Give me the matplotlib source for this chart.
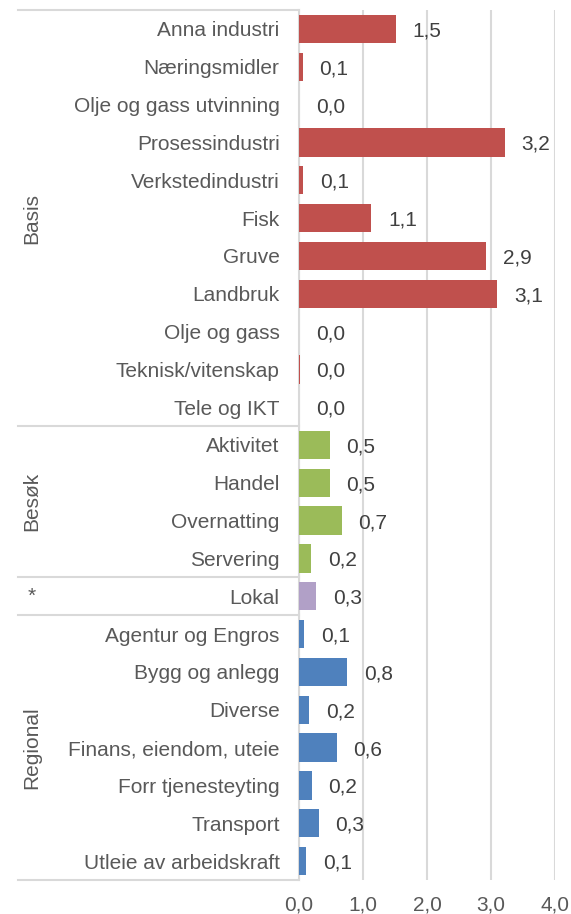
import matplotlib.pyplot as plt
import matplotlib.transforms as mtransforms

plt.rcParams['font.family'] = ['Liberation Sans', 'DejaVu Sans']

# data
categories = ["Anna industri", "Næringsmidler", "Olje og gass utvinning", "Prosessindustri",
              "Verkstedindustri", "Fisk", "Gruve", "Landbruk", "Olje og gass",
              "Teknisk/vitenskap", "Tele og IKT",
              "Aktivitet", "Handel", "Overnatting", "Servering",
              "Lokal",
              "Agentur og Engros", "Bygg og anlegg", "Diverse", "Finans, eiendom, uteie",
              "Forr tjenesteyting", "Transport", "Utleie av arbeidskraft"]
values = [1.51, 0.06, 0.0, 3.22, 0.07, 1.13, 2.92, 3.10, 0.0, 0.01, 0.0,
          0.48, 0.48, 0.67, 0.19,
          0.27,
          0.08, 0.75, 0.16, 0.59, 0.20, 0.31, 0.11]
groups = ["Basis", "Besøk", "*", "Regional"]
group_sizes = [11, 4, 1, 7]
group_colors = ["#C0504D", "#9BBB59", "#B1A0C7", "#4F81BD"]
xticks = [0, 1, 2, 3, 4]

text_col = "#595959"
grid_col = "#D9D9D9"
fs = 15

fig = plt.figure(figsize=(5.71, 9.14), dpi=100)
ax = fig.add_axes([299 / 571, 1 - 880 / 914, 256 / 571, 870 / 914])

colors = []
for g, n in enumerate(group_sizes):
    colors += [group_colors[g]] * n

ypos = list(range(len(categories)))
ax.barh(ypos, values, height=0.75, color=colors, zorder=3)

# data labels
for y, v in zip(ypos, values):
    lbl = ("%.1f" % v).replace(".", ",")
    ax.annotate(lbl, xy=(v, y), xytext=(12, 0), textcoords="offset points",
                ha="left", va="center_baseline", fontsize=fs, color="#404040")

ax.set_xlim(0, 4)
ax.set_ylim(len(categories) - 0.5, -0.5)
ax.set_xticks(xticks)
ax.set_xticklabels([("%.1f" % t).replace(".", ",") for t in xticks])
ax.set_yticks(ypos)
ax.set_yticklabels(categories)
ax.tick_params(axis="both", length=0, labelsize=fs, labelcolor=text_col)
ax.tick_params(axis="y", pad=14)
ax.tick_params(axis="x", pad=11)
ax.xaxis.grid(True, color=grid_col, linewidth=1.5, zorder=0)
ax.set_axisbelow(True)
for s in ["top", "right", "bottom"]:
    ax.spines[s].set_visible(False)
ax.spines["left"].set_color(grid_col)
ax.spines["left"].set_linewidth(1.5)

# group separators and labels
trans = mtransforms.blended_transform_factory(ax.transAxes, ax.transData)
x_left = (18 - 299) / 256
x_lab = (32 - 299) / 256
start = -0.5
ax.plot([x_left, 0], [start, start], transform=trans, color=grid_col, lw=1.5, clip_on=False)
for g, n in zip(groups, group_sizes):
    end = start + n
    ax.plot([x_left, 0], [end, end], transform=trans, color=grid_col, lw=1.5, clip_on=False)
    mid = (start + end) / 2
    rot = 0 if g == "*" else 90
    ax.text(x_lab, mid, g, transform=trans, rotation=rot, ha="center", va="center",
            fontsize=fs, color=text_col)
    start = end

fig.savefig("out.png", dpi=100)
